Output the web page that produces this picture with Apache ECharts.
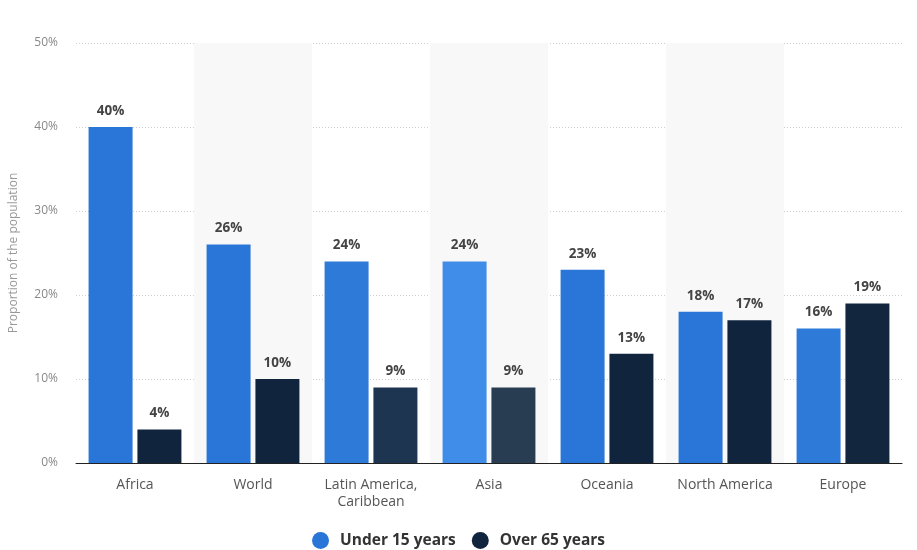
<!DOCTYPE html>
<html>
<head>
<meta charset="utf-8">
<script src="https://cdn.jsdelivr.net/npm/echarts@6/dist/echarts.min.js"></script>
<style>
  html, body { margin: 0; padding: 0; background: #fff; }
  #chart { width: 917px; height: 550px; }
</style>
</head>
<body>
<div id="chart"></div>
<script>
// Share of population by age group, per region
const regions = ['Africa', 'World', 'Latin America,\nCaribbean', 'Asia', 'Oceania', 'North America', 'Europe'];
const under15 = [40, 26, 24, 24, 23, 18, 16];
const over65 = [4, 10, 9, 9, 13, 17, 19];
const seriesNames = ['Under 15 years', 'Over 65 years'];
const yTicks = [0, 10, 20, 30, 40, 50];

// Bar shades per region
const blueShades = ['#2a76d8', '#2a76d8', '#2e7ad9', '#3f8de8', '#2a76d8', '#2a76d8', '#2e7ad9'];
const navyShades = ['#10253d', '#10253d', '#1d3550', '#283d52', '#10253d', '#10253d', '#12263e'];

const FONT = '"Open Sans", "Noto Sans", sans-serif';

const labelStyle = {
  show: true,
  position: 'top',
  distance: 9,
  formatter: p => p.value + '%',
  color: '#444',
  fontWeight: 'bold',
  fontSize: 13.5,
  fontFamily: FONT
};

const chart = echarts.init(document.getElementById('chart'));
chart.setOption({
  animation: false,
  backgroundColor: '#fff',
  textStyle: { fontFamily: FONT },
  grid: { left: 76, right: 15, top: 43, bottom: 87, containLabel: false },
  legend: {
    left: 'center',
    top: 527,
    icon: 'circle',
    itemWidth: 17,
    itemHeight: 17,
    itemGap: 16,
    textStyle: { color: '#333', fontSize: 15.5, fontWeight: 'bold', fontFamily: FONT, padding: [0, 0, 0, 6] },
    data: seriesNames
  },
  xAxis: {
    type: 'category',
    data: regions,
    axisLine: { lineStyle: { color: '#222', width: 1 } },
    axisTick: { show: false },
    axisLabel: { interval: 0, color: '#555', fontSize: 14, margin: 14, lineHeight: 17, fontFamily: FONT },
    splitArea: { show: true, interval: 0, areaStyle: { color: ['rgba(255,255,255,0)', '#f8f8f8'] } }
  },
  yAxis: {
    type: 'value',
    min: yTicks[0],
    max: yTicks[yTicks.length - 1],
    interval: 10,
    name: 'Proportion of the population',
    nameLocation: 'middle',
    nameGap: 56,
    nameTextStyle: { color: '#999', fontSize: 12, fontFamily: FONT },
    axisLine: { show: false },
    axisTick: { show: false },
    axisLabel: { color: '#888', fontSize: 12, margin: 18, formatter: v => v + '%', fontFamily: FONT },
    splitLine: { lineStyle: { color: '#cfcfcf', type: [1, 2], width: 1 } }
  },
  series: [
    {
      name: seriesNames[0],
      type: 'bar',
      data: under15.map((v, i) => ({ value: v, itemStyle: { color: blueShades[i] } })),
      itemStyle: { color: '#2a76d8' },
      barWidth: 44,
      barGap: '11%',
      label: labelStyle
    },
    {
      name: seriesNames[1],
      type: 'bar',
      data: over65.map((v, i) => ({ value: v, itemStyle: { color: navyShades[i] } })),
      itemStyle: { color: '#10253d' },
      barWidth: 44,
      label: labelStyle
    }
  ]
});
</script>
</body>
</html>
